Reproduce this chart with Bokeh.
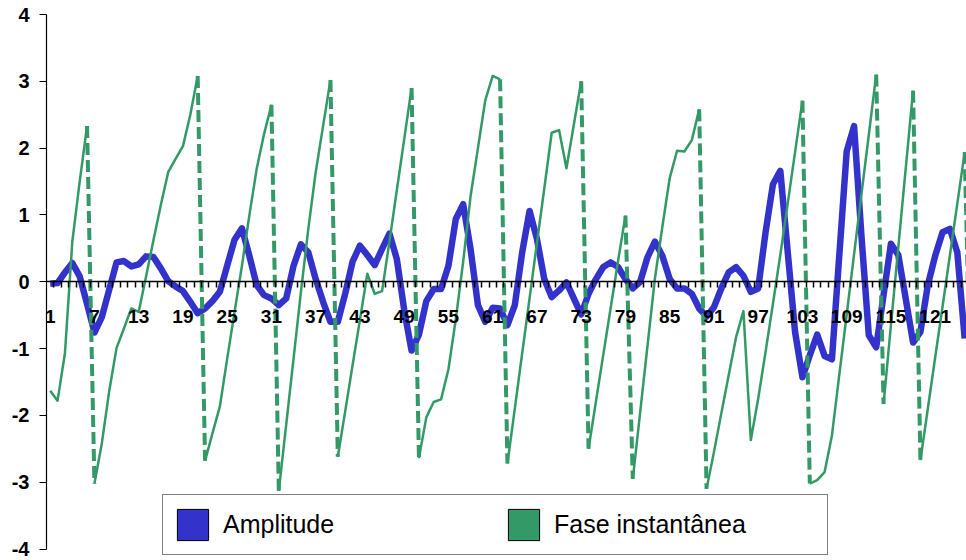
from bokeh.plotting import figure
from bokeh.models import Range1d, LinearAxis, FixedTicker, Legend, LegendItem
from bokeh.embed import file_html
from bokeh.resources import INLINE

# sample index (categories); the phase series has one extra sample past the visible edge
sample = list(range(1, 127))
tick_labels = [str(n) for n in range(1, 126, 6)]
label_positions = [int(s) for s in tick_labels]

amplitude = [
    -0.03, -0.02, 0.14, 0.28, 0.08, -0.33, -0.76, -0.53, -0.12, 0.29,
    0.31, 0.23, 0.26, 0.38, 0.37, 0.2, 0.01, -0.07, -0.14, -0.3,
    -0.47, -0.4, -0.29, -0.15, 0.24, 0.63, 0.8, 0.39, -0.05, -0.2,
    -0.25, -0.35, -0.25, 0.24, 0.56, 0.44, 0.04, -0.3, -0.6, -0.6,
    -0.18, 0.3, 0.54, 0.4, 0.25, 0.49, 0.72, 0.34, -0.42, -1.03,
    -0.79, -0.29, -0.11, -0.11, 0.24, 0.94, 1.16, 0.49, -0.35, -0.6,
    -0.39, -0.4, -0.65, -0.35, 0.44, 1.06, 0.64, 0.04, -0.23, -0.13,
    -0.01, -0.25, -0.49, -0.18, 0.04, 0.22, 0.29, 0.22, 0.04, -0.1,
    0.0, 0.37, 0.6, 0.39, 0.04, -0.1, -0.1, -0.18, -0.4, -0.52,
    -0.38, -0.1, 0.14, 0.22, 0.09, -0.15, -0.1, 0.74, 1.46, 1.66,
    0.45, -0.75, -1.43, -1.1, -0.79, -1.11, -1.16, 0.4, 1.95, 2.33,
    0.69, -0.8, -0.98, -0.2, 0.57, 0.4, -0.25, -0.91, -0.75, -0.05,
    0.39, 0.74, 0.79, 0.44, -0.85,
]

fase = [
    -1.63, -1.78, -1.07, 0.6, 1.5, 2.33, -3.02, -2.42, -1.64, -0.99,
    -0.7, -0.4, -0.45, 0.08, 0.62, 1.15, 1.64, 1.84, 2.03, 2.5,
    3.08, -2.68, -2.27, -1.87, -1.15, -0.45, 0.24, 0.99, 1.69, 2.21,
    2.65, -3.13, -2.14, -1.15, -0.15, 0.79, 1.64, 2.33, 3.02, -2.62,
    -1.94, -1.25, -0.57, 0.12, -0.18, -0.14, 0.6, 1.37, 2.13, 2.9,
    -2.64, -2.03, -1.8, -1.76, -1.31, -0.56, 0.3, 1.28, 2.0, 2.72,
    3.08, 3.03, -2.72, -1.9, -1.07, -0.25, 0.58, 1.4, 2.23, 2.27,
    1.7, 2.35, 3.0, -2.5, -1.79, -1.09, -0.39, 0.31, 0.99, -2.95,
    -1.95, -0.95, 0.05, 0.82, 1.55, 1.96, 1.95, 2.12, 2.58, -3.1,
    -2.55, -1.97, -1.4, -0.83, -0.44, -2.37, -1.75, -1.05, -0.33, 0.4,
    1.17, 1.94, 2.71, -3.02, -2.97, -2.85, -2.3, -1.39, -0.49, 0.41,
    1.31, 2.2, 3.1, -1.83, -0.65, 0.52, 1.69, 2.86, -2.67, -1.9,
    -1.13, -0.37, 0.4, 1.17, 1.94, -2.6,
]

BLUE = "#3333CC"
GREEN = "#339966"
FONT = "Liberation Sans"
NAN = float("nan")

p = figure(
    width=966, height=560, output_backend="svg", toolbar_location=None, title=None,
    x_range=Range1d(0.5, 0.5 + 920 / 7.375),
    y_range=Range1d(-4.172, 4),
    min_border_left=46, min_border_right=0, min_border_top=14, min_border_bottom=0,
    x_axis_type=None,
)
p.outline_line_color = None
p.ygrid.grid_line_color = None
p.background_fill_color = "white"
p.border_fill_color = "white"

# vertical value axis
yax = p.yaxis[0]
yax.bounds = (-4, 4)
yax.ticker = FixedTicker(ticks=list(range(-4, 5)), minor_ticks=[])
yax.major_label_overrides = {v: str(v) for v in range(-4, 5)}
yax.axis_line_color = "black"
yax.axis_line_width = 1.2
yax.major_tick_out = 7
yax.major_tick_in = 0
yax.major_tick_line_width = 1.2
yax.minor_tick_line_color = None
yax.major_label_standoff = 10
yax.major_label_text_font = FONT
yax.major_label_text_font_style = "bold"
yax.major_label_text_font_size = "20px"
yax.major_label_text_color = "black"

# category axis crossing at zero
xax = LinearAxis(fixed_location=0)
xax.ticker = FixedTicker(ticks=label_positions,
                         minor_ticks=[k + 0.5 for k in range(1, 126)])
xax.major_label_overrides = {pos: lab for pos, lab in zip(label_positions, tick_labels)}
xax.axis_line_color = "black"
xax.axis_line_width = 1.5
xax.major_tick_out = 0
xax.major_tick_in = 0
xax.minor_tick_out = 6
xax.minor_tick_in = 0
xax.minor_tick_line_color = "black"
xax.minor_tick_line_width = 1.5
xax.major_label_standoff = 22
xax.major_label_text_font = FONT
xax.major_label_text_font_style = "bold"
xax.major_label_text_font_size = "19px"
xax.major_label_text_color = "black"
p.add_layout(xax, "below")

# amplitude series
p.line(sample[:len(amplitude)], amplitude, line_color=BLUE, line_width=6.5,
       line_join="round")

# instantaneous phase: solid while rising, dashed where it wraps around
wraps = [k for k in range(len(fase) - 1) if fase[k + 1] - fase[k] < -3]
runs_x, runs_y = [], []
start = 0
for k in wraps:
    runs_x.append(sample[start:k + 1])
    runs_y.append(fase[start:k + 1])
    start = k + 1
runs_x.append(sample[start:])
runs_y.append(fase[start:])
p.multi_line(runs_x, runs_y, line_color=GREEN, line_width=2.5, line_join="round")
p.segment(x0=[sample[k] for k in wraps], y0=[fase[k] for k in wraps],
          x1=[sample[k + 1] for k in wraps], y1=[fase[k + 1] for k in wraps],
          line_color=GREEN, line_width=4, line_dash="12 5")

# legend swatches (not drawn in the plot area, only in the legend)
sw_a = p.quad(left=[NAN], right=[NAN], top=[NAN], bottom=[NAN], fill_color=BLUE,
              line_color="black", line_width=1)
sw_f = p.quad(left=[NAN], right=[NAN], top=[NAN], bottom=[NAN], fill_color=GREEN,
              line_color="black", line_width=1)
legend = Legend(
    items=[LegendItem(label="Amplitude", renderers=[sw_a]),
           LegendItem(label="Fase instantânea", renderers=[sw_f])],
    orientation="horizontal", location=(116, 5), margin=0, padding=10,
    spacing=18, glyph_width=39, glyph_height=39, label_standoff=11,
    label_width=263, label_height=39,
    label_text_font=FONT, label_text_font_size="25px", label_text_color="black",
    border_line_color="black", border_line_width=1,
    background_fill_color="white", background_fill_alpha=1.0,
)
p.add_layout(legend)

open("out.html", "w").write(file_html(p, INLINE))
